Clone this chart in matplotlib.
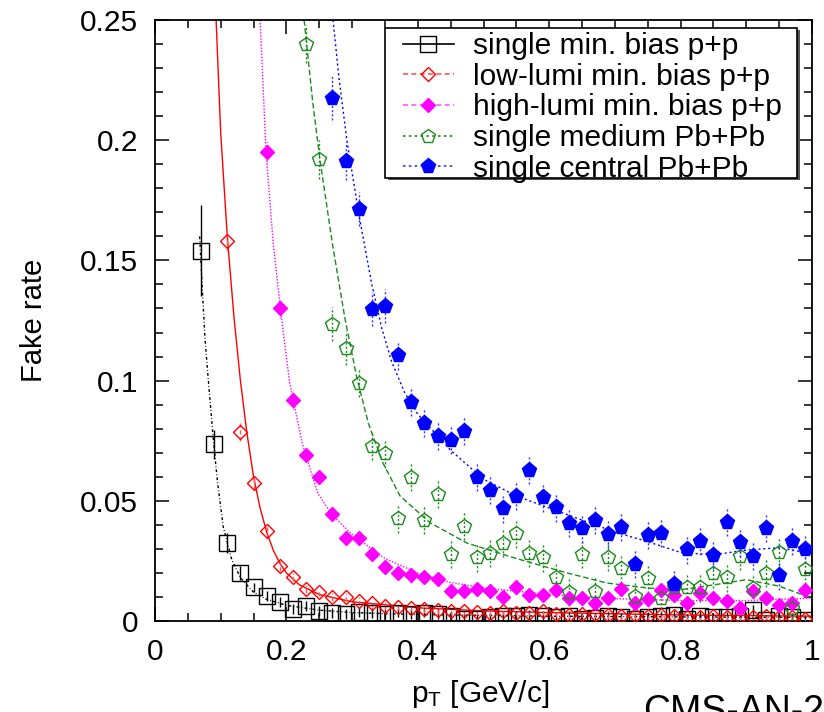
import matplotlib
matplotlib.use('Agg')
import matplotlib.pyplot as plt
from matplotlib.lines import Line2D
from matplotlib.patches import Rectangle
from matplotlib.ticker import FixedLocator, FixedFormatter, MultipleLocator

plt.rcParams['font.family'] = ['Liberation Sans', 'DejaVu Sans']
plt.rcParams['mathtext.fontset'] = 'custom'
plt.rcParams['mathtext.rm'] = 'Liberation Sans'
plt.rcParams['mathtext.it'] = 'Liberation Sans:italic'

# ---------------- data ----------------
pt_bins = [0.01, 0.03, 0.05, 0.07, 0.09, 0.11, 0.13, 0.15, 0.17, 0.19,
           0.21, 0.23, 0.25, 0.27, 0.29, 0.31, 0.33, 0.35, 0.37, 0.39,
           0.41, 0.43, 0.45, 0.47, 0.49, 0.51, 0.53, 0.55, 0.57, 0.59,
           0.61, 0.63, 0.65, 0.67, 0.69, 0.71, 0.73, 0.75, 0.77, 0.79,
           0.81, 0.83, 0.85, 0.87, 0.89, 0.91, 0.93, 0.95, 0.97, 0.99]

labels = ['single min. bias p+p', 'low-lumi min. bias p+p',
          'high-lumi min. bias p+p', 'single medium Pb+Pb',
          'single central Pb+Pb']

# single min. bias p+p (from 0.07)
black_y = [0.154, 0.0735, 0.0324, 0.020, 0.014, 0.0104, 0.008, 0.005, 0.0062, 0.0042,
           0.0034, 0.003, 0.0037, 0.0033, 0.003, 0.0035, 0.003, 0.0035, 0.003, 0.002,
           0.001, 0.001, 0.0015, 0.002, 0.002, 0.0025, 0.002, 0.0015, 0.002, 0.001,
           0.0012, 0.0022, 0.0015, 0.001, 0.0018, 0.002, 0.0025, 0.001, 0.002, 0.0015,
           0.0018, 0.002, 0.0045, 0.0005, 0.002, 0.0015, 0.0003]
black_err = [0.019, 0.006, 0.004, 0.003] + [0.002] * 43

# low-lumi min. bias p+p (from 0.11)
red_y = [0.158, 0.0787, 0.0573, 0.0374, 0.0229, 0.0183, 0.0133, 0.012, 0.010, 0.010,
         0.0083, 0.0074, 0.0062, 0.006, 0.0055, 0.005, 0.0045, 0.004, 0.004, 0.0038,
         0.0035, 0.004, 0.0035, 0.0035, 0.004, 0.003, 0.0025, 0.003, 0.0028, 0.0025,
         0.002, 0.0025, 0.002, 0.0025, 0.002, 0.0018, 0.0015, 0.002, 0.0018, 0.0015,
         0.0018, 0.002, 0.0015, 0.0018, 0.0008]
red_err = [0.004, 0.004, 0.003, 0.003, 0.002] + [0.0015] * 40

# high-lumi min. bias p+p (from 0.17)
mag_y = [0.195, 0.130, 0.092, 0.069, 0.060, 0.0445, 0.0345, 0.0345, 0.028, 0.0225,
         0.020, 0.019, 0.0183, 0.0175, 0.0125, 0.0125, 0.0133, 0.0125, 0.010, 0.014,
         0.011, 0.011, 0.013, 0.0095, 0.0095, 0.0075, 0.0095, 0.0133, 0.0075, 0.009,
         0.013, 0.011, 0.0075, 0.0115, 0.0095, 0.0085, 0.0055, 0.0125, 0.0095, 0.0067,
         0.0075, 0.013]
mag_err = [0.005, 0.004, 0.004] + [0.003] * 39

# single medium Pb+Pb (from 0.23)
green_y = [0.240, 0.192, 0.1235, 0.1136, 0.099, 0.0728, 0.0698, 0.0428, 0.060, 0.042,
           0.0528, 0.028, 0.0397, 0.0265, 0.0284, 0.0326, 0.0365, 0.0284, 0.0265, 0.0184,
           0.0122, 0.0279, 0.0126, 0.0268, 0.0219, 0.0106, 0.0177, 0.0094, 0.0140, 0.014,
           0.014, 0.0198, 0.0182, 0.0272, 0.0136, 0.0201, 0.0288, 0.0053, 0.0215]
green_err = [0.008, 0.008, 0.007, 0.007] + [0.006] * 35

# single central Pb+Pb (from 0.27)
blue_y = [0.2175, 0.1914, 0.1713, 0.1298, 0.131, 0.1106, 0.0912, 0.0825, 0.077, 0.0753,
          0.0792, 0.060, 0.0545, 0.0469, 0.052, 0.0628, 0.0515, 0.0473, 0.0409, 0.0386,
          0.042, 0.0362, 0.0392, 0.0237, 0.0358, 0.0367, 0.0154, 0.0298, 0.0333, 0.0275,
          0.0413, 0.0327, 0.0272, 0.0388, 0.0191, 0.0333, 0.030]
blue_err = [0.009, 0.008, 0.007, 0.007, 0.007] + [0.006] * 32

# fitted curves
fit_black_x = [0.068, 0.072, 0.076, 0.080, 0.088, 0.095, 0.104, 0.117, 0.13, 0.15,
               0.17, 0.20, 0.25, 0.30, 0.40, 0.60, 0.80, 1.00]
fit_black_y = [0.160, 0.138, 0.118, 0.104, 0.078, 0.058, 0.039, 0.0254, 0.018, 0.012,
               0.009, 0.0065, 0.0045, 0.0035, 0.0027, 0.002, 0.0017, 0.0015]

fit_red_x = [0.093, 0.10, 0.11, 0.12, 0.13, 0.14, 0.15, 0.16, 0.17, 0.18, 0.19, 0.20,
             0.22, 0.25, 0.30, 0.40, 0.50, 0.60, 0.80, 1.00]
fit_red_y = [0.250, 0.203, 0.160, 0.127, 0.100, 0.078, 0.060, 0.047, 0.037, 0.0295,
             0.024, 0.020, 0.015, 0.011, 0.008, 0.0055, 0.0042, 0.0035, 0.0025, 0.002]

fit_mag_x = [0.160, 0.169, 0.18, 0.193, 0.205, 0.224, 0.248, 0.27, 0.30, 0.35, 0.40,
             0.45, 0.50, 0.60, 0.70, 0.80, 0.90, 1.00]
fit_mag_y = [0.250, 0.195, 0.157, 0.125, 0.099, 0.074, 0.053, 0.044, 0.036, 0.026,
             0.020, 0.016, 0.0138, 0.011, 0.0093, 0.0085, 0.0085, 0.0095]

fit_green_x = [0.227, 0.24, 0.251, 0.27, 0.289, 0.307, 0.325, 0.347, 0.373, 0.419,
               0.475, 0.55, 0.627, 0.688, 0.75, 0.80, 0.85, 0.90, 0.95, 1.00]
fit_green_y = [0.250, 0.216, 0.192, 0.157, 0.126, 0.1015, 0.082, 0.0657, 0.052, 0.0408,
               0.0324, 0.026, 0.020, 0.0158, 0.0137, 0.013, 0.015, 0.0172, 0.0145, 0.0095]

fit_blue_x = [0.271, 0.28, 0.292, 0.311, 0.33, 0.345, 0.36, 0.38, 0.40, 0.45, 0.50,
              0.55, 0.60, 0.65, 0.70, 0.75, 0.80, 0.85, 0.90, 0.95, 1.00]
fit_blue_y = [0.250, 0.226, 0.200, 0.168, 0.140, 0.122, 0.108, 0.095, 0.086, 0.071,
              0.059, 0.052, 0.047, 0.042, 0.037, 0.033, 0.0285, 0.0275, 0.0295, 0.0305, 0.028]

x_ticks = [0, 0.2, 0.4, 0.6, 0.8, 1.0]
x_tick_labels = ['0', '0.2', '0.4', '0.6', '0.8', '1']
y_ticks = [0, 0.05, 0.1, 0.15, 0.2, 0.25]
y_tick_labels = ['0', '0.05', '0.1', '0.15', '0.2', '0.25']

# ---------------- styles ----------------
series = [
    dict(y=black_y, err=black_err, fx=fit_black_x, fy=fit_black_y, color='black',
         ecolor='black', fit_ls=(0, (2.0, 1.6, 0.6, 1.6)), err_ls='-', leg_ls='-',
         marker='s', ms=11, filled=False),
    dict(y=red_y, err=red_err, fx=fit_red_x, fy=fit_red_y, color='#ff0000',
         ecolor='#ff5555', fit_ls='-', err_ls=(0, (3, 2)), leg_ls=(0, (3, 2)),
         marker='D', ms=7.5, filled=False),
    dict(y=mag_y, err=mag_err, fx=fit_mag_x, fy=fit_mag_y, color='#ff00ff',
         ecolor='#ff55ff', fit_ls=(0, (1, 1.2)), err_ls=(0, (1, 1.2)), leg_ls=(0, (3, 2)),
         marker='D', ms=7.5, filled=True),
    dict(y=green_y, err=green_err, fx=fit_green_x, fy=fit_green_y, color='#1a8a1a',
         ecolor='#1a8a1a', fit_ls=(0, (4, 2)), err_ls=(0, (1.5, 1.5)), leg_ls=(0, (1.5, 2)),
         marker='p', ms=10.5, filled=False),
    dict(y=blue_y, err=blue_err, fx=fit_blue_x, fy=fit_blue_y, color='#0000ff',
         ecolor='#3333ff', fit_ls=(0, (1.5, 2)), err_ls=(0, (1.5, 1.5)), leg_ls=(0, (1.5, 2)),
         marker='p', ms=11, filled=True),
]

fig = plt.figure(figsize=(8.24, 7.12), dpi=100)
ax = fig.add_axes([155 / 824, 1 - 621 / 712, 657 / 824, 601 / 712])

handles = []
for i, s in enumerate(series):
    xs = pt_bins[-len(s['y']):]
    ax.plot(s['fx'], s['fy'], color=s['color'], ls=s['fit_ls'], lw=1.0, zorder=2)
    eb = ax.errorbar(xs, s['y'], yerr=s['err'], fmt='none', ecolor=s['ecolor'],
                     elinewidth=1.0, capsize=0, zorder=3)
    eb[2][0].set_linestyle(s['err_ls'])
    mfc = s['color'] if s['filled'] else 'none'
    ax.plot(xs, s['y'], ls='none', marker=s['marker'], ms=s['ms'], mfc=mfc,
            mec=s['color'], mew=1.0, zorder=4 + i * 0.1)
    handles.append(Line2D([], [], color=s['ecolor'], ls=s['leg_ls'], lw=1.2,
                          marker=s['marker'], ms=s['ms'], mfc=mfc, mec=s['color'], mew=1.0))

ax.set_xlim(0, 1)
ax.set_ylim(0, 0.25)
ax.xaxis.set_major_locator(FixedLocator(x_ticks))
ax.xaxis.set_major_formatter(FixedFormatter(x_tick_labels))
ax.yaxis.set_major_locator(FixedLocator(y_ticks))
ax.yaxis.set_major_formatter(FixedFormatter(y_tick_labels))
ax.xaxis.set_minor_locator(MultipleLocator(0.05))
ax.yaxis.set_minor_locator(MultipleLocator(0.01))
ax.tick_params(which='both', direction='in', top=True, right=True, width=1.1)
ax.tick_params(which='major', length=10, labelsize=21.5, pad=12)
ax.tick_params(which='minor', length=5.5)
for sp in ax.spines.values():
    sp.set_linewidth(1.3)

ax.set_ylabel('Fake rate', fontsize=21)
ax.yaxis.set_label_coords(-0.163, 0.5)
ax.set_xlabel('p$_{\\mathrm{T}}$ [GeV/c]', fontsize=21.5)
ax.xaxis.set_label_coords(0.495, -0.095)

# legend frame with small shadow
x0 = (385 - 155) / 657
x1 = (797 - 155) / 657
yb = (621 - 178) / 601
yt = (621 - 28) / 601
ax.add_patch(Rectangle((x0 + 0.004, yb - 0.004), x1 - x0, yt - yb, transform=ax.transAxes,
                       fc='#555555', ec='none', zorder=9, clip_on=False))
ax.add_patch(Rectangle((x0, yb), x1 - x0, yt - yb, transform=ax.transAxes,
                       fc='white', ec='black', lw=1.2, zorder=9.5, clip_on=False))
leg = ax.legend(handles, labels, loc='upper left',
                bbox_to_anchor=((403 - 155) / 657, (621 - 32) / 601),
                frameon=False, borderpad=0, borderaxespad=0, handlelength=1.7,
                handletextpad=0.63, labelspacing=0.09, fontsize=21.5)
leg.set_zorder(10)

fig.text(643 / 824, -10 / 712, 'CMS-AN-20', fontsize=27, ha='left', va='baseline')

fig.savefig('out.png', dpi=100)
